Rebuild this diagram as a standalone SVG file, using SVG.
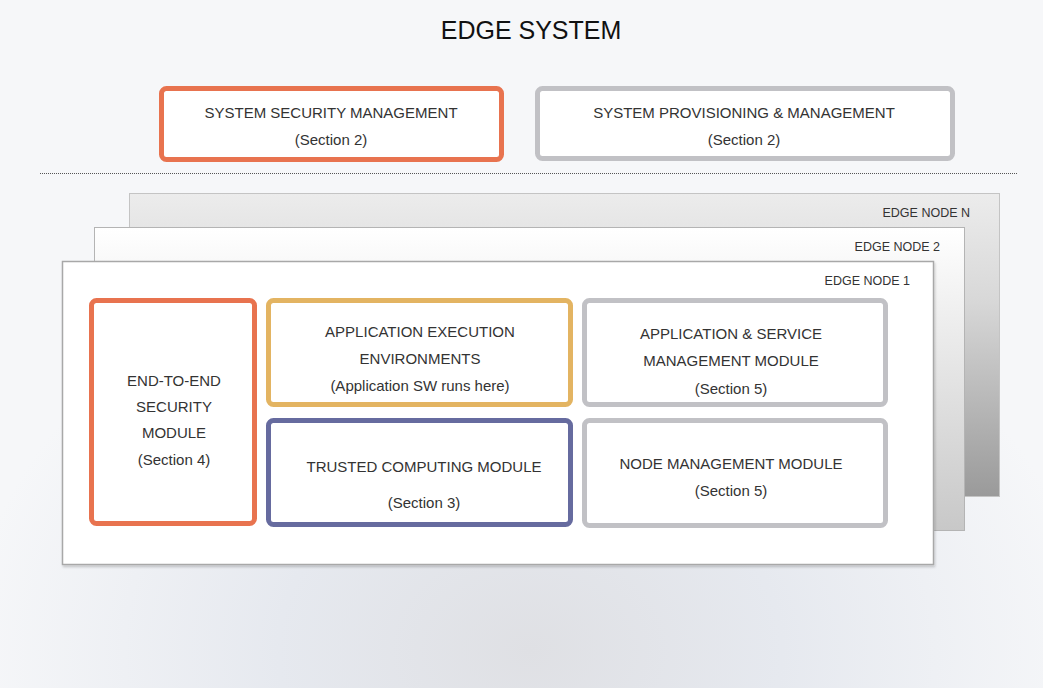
<svg xmlns="http://www.w3.org/2000/svg" width="1043" height="688" viewBox="0 0 1043 688">
<defs>
<radialGradient id="bg" cx="530" cy="650" r="560" gradientUnits="userSpaceOnUse" gradientTransform="translate(530 650) scale(1 0.75) translate(-530 -650)">
<stop offset="0" stop-color="#dfe0e4"/>
<stop offset="0.45" stop-color="#e6e9ef"/>
<stop offset="1" stop-color="#f6f7f9"/>
</radialGradient>
<linearGradient id="gN" x1="0" y1="0" x2="0" y2="1">
<stop offset="0" stop-color="#ececec"/>
<stop offset="0.35" stop-color="#d8d8d8"/>
<stop offset="1" stop-color="#9a9a9a"/>
</linearGradient>
<linearGradient id="g2" x1="0" y1="0" x2="0" y2="1">
<stop offset="0" stop-color="#ffffff"/>
<stop offset="0.3" stop-color="#eeeeee"/>
<stop offset="1" stop-color="#c8c8c8"/>
</linearGradient>
<filter id="sh" x="-5%" y="-5%" width="110%" height="110%">
<feDropShadow dx="1" dy="2" stdDeviation="1.2" flood-color="#000" flood-opacity="0.18"/>
</filter>
</defs>
<style>
text{font-family:"Liberation Sans",Arial,sans-serif;fill:#333;text-anchor:middle;}
.t{font-size:15px;}
.lbl{font-size:12.5px;text-anchor:end;fill:#333;}
.box{fill:#fff;stroke-width:5;}
.orange{stroke:#e8734f;}
.gray{stroke:#c1c1c5;}
.gold{stroke:#e3b462;}
.blue{stroke:#666b9f;}
</style>
<rect x="0" y="0" width="1043" height="688" fill="url(#bg)"/>
<text x="531" y="39" style="font-size:25px;fill:#111">EDGE SYSTEM</text>

<g id="system-security-management">
<rect class="box orange" x="161.5" y="88.5" width="340" height="71" rx="5"/>
<text class="t" x="331" y="118">SYSTEM SECURITY MANAGEMENT</text>
<text class="t" x="331" y="145">(Section 2)</text>
</g>
<g id="system-provisioning-management">
<rect class="box gray" x="537.5" y="88.5" width="415" height="70" rx="5"/>
<text class="t" x="744" y="118">SYSTEM PROVISIONING &amp; MANAGEMENT</text>
<text class="t" x="744" y="145">(Section 2)</text>
</g>

<line x1="40" y1="173.5" x2="1018" y2="173.5" stroke="#555" stroke-width="1" stroke-dasharray="1 1"/>

<g id="edge-node-n">
<rect x="129.5" y="193.5" width="870" height="303" fill="url(#gN)" stroke="#c4c4c4" stroke-width="1"/>
<text class="lbl" x="970" y="217">EDGE NODE N</text>
</g>
<g id="edge-node-2">
<rect x="94.5" y="227.5" width="870" height="303" fill="url(#g2)" stroke="#b4b4b4" stroke-width="1"/>
<text class="lbl" x="940" y="251">EDGE NODE 2</text>
</g>
<g id="edge-node-1">
<rect x="62.5" y="261.5" width="871" height="303" fill="#fff" stroke="#a8a8a8" stroke-width="1.5" filter="url(#sh)"/>
<text class="lbl" x="910" y="285">EDGE NODE 1</text>
</g>

<g id="end-to-end-security-module">
<rect class="box orange" x="91.5" y="300.5" width="163" height="223" rx="5"/>
<text class="t" x="174" y="386">END-TO-END</text>
<text class="t" x="174" y="412">SECURITY</text>
<text class="t" x="174" y="438">MODULE</text>
<text class="t" x="174" y="465">(Section 4)</text>
</g>
<g id="application-execution-environments">
<rect class="box gold" x="268.5" y="300.5" width="302" height="104" rx="5"/>
<text class="t" x="420" y="337">APPLICATION EXECUTION</text>
<text class="t" x="420" y="364">ENVIRONMENTS</text>
<text class="t" x="420" y="391">(Application SW runs here)</text>
</g>
<g id="trusted-computing-module">
<rect class="box blue" x="268.5" y="420.5" width="302" height="104" rx="5"/>
<text class="t" x="424" y="472">TRUSTED COMPUTING MODULE</text>
<text class="t" x="424" y="508">(Section 3)</text>
</g>
<g id="application-service-management-module">
<rect class="box gray" x="584.5" y="300.5" width="301" height="104" rx="5"/>
<text class="t" x="731" y="339">APPLICATION &amp; SERVICE</text>
<text class="t" x="731" y="366">MANAGEMENT MODULE</text>
<text class="t" x="731" y="394">(Section 5)</text>
</g>
<g id="node-management-module">
<rect class="box gray" x="584.5" y="420.5" width="301" height="105" rx="5"/>
<text class="t" x="731" y="469">NODE MANAGEMENT MODULE</text>
<text class="t" x="731" y="496">(Section 5)</text>
</g>
<g id="connectors"/>
</svg>
